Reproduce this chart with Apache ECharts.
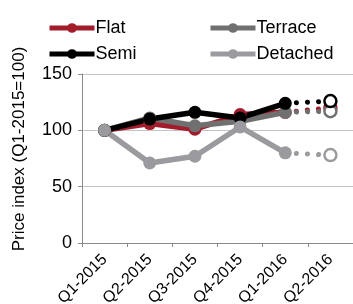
<!DOCTYPE html>
<html>
<head>
<meta charset="utf-8">
<script src="https://cdn.jsdelivr.net/npm/echarts@6/dist/echarts.min.js"></script>
<style>
  html, body { margin: 0; padding: 0; background: #fff; }
  #chart { width: 353px; height: 304px; }
</style>
</head>
<body>
<div id="chart"></div>
<script>
var quarters = ['Q1-2015', 'Q2-2015', 'Q3-2015', 'Q4-2015', 'Q1-2016', 'Q2-2016'];
var flat = [100, 106, 101, 114, 116, 120];
var terrace = [100, 111, 104, 108, 116, 117];
var semi = [100, 110, 116, 111, 124, 126];
var detached = [100, 71, 77, 103, 80, 78];
var yTicks = [0, 50, 100, 150];

var colours = {
    Flat: '#a21c2b',
    Terrace: '#707070',
    Semi: '#000000',
    Detached: '#9b9b9f'
};

// solid line up to the last actual quarter, dotted to the forecast
var makeSeries = function (name, values) {
    var c = colours[name];
    var last = values.length - 1;
    var solid = values.map(function (v, i) { return i < last ? v : null; });
    var dotted = values.map(function (v, i) {
        if (i === last - 1) return { value: v, symbol: 'none' };
        if (i === last) return {
            value: v, symbol: 'circle', symbolSize: 12,
            itemStyle: { color: '#fff', borderColor: c, borderWidth: 2.5 }
        };
        return null;
    });
    return [
        {
            name: name, type: 'line', data: solid,
            symbol: 'circle', symbolSize: 13,
            lineStyle: { color: c, width: 5.5 },
            itemStyle: { color: c },
            emphasis: { disabled: true },
            animation: false
        },
        {
            name: name + '-f', type: 'line', data: dotted,
            connectNulls: false,
            lineStyle: { color: c, width: 5, type: [0.1, 11], cap: 'round' },
            itemStyle: { color: c },
            emphasis: { disabled: true },
            animation: false
        }
    ];
};

var series = []
    .concat(makeSeries('Flat', flat))
    .concat(makeSeries('Terrace', terrace))
    .concat(makeSeries('Semi', semi))
    .concat(makeSeries('Detached', detached));

var legendBase = {
    orient: 'vertical',
    top: 14,
    itemWidth: 45,
    itemHeight: 12,
    itemGap: 8,
    lineStyle: { width: 5 },
    textStyle: {
        fontFamily: 'Liberation Sans', fontSize: 18, color: '#000',
        padding: [0, 0, 0, -4]
    }
};

var chart = echarts.init(document.getElementById('chart'));
chart.setOption({
    animation: false,
    legend: [
        Object.assign({ left: 42, data: ['Flat', 'Semi'] }, legendBase),
        Object.assign({ left: 203, data: ['Terrace', 'Detached'] }, legendBase)
    ],
    grid: { left: 82, right: 0, top: 74, bottom: 61, outerBoundsMode: 'none' },
    xAxis: {
        type: 'category',
        data: quarters,
        boundaryGap: true,
        axisLine: { lineStyle: { color: '#8a8a8a', width: 1 } },
        axisTick: { show: true, length: 4, lineStyle: { color: '#8a8a8a' } },
        axisLabel: {
            rotate: 45, interval: 0, margin: 14,
            fontFamily: 'Liberation Sans', fontSize: 16, color: '#000'
        }
    },
    yAxis: {
        type: 'value',
        min: yTicks[0],
        max: yTicks[yTicks.length - 1],
        interval: 50,
        name: 'Price index (Q1-2015=100)',
        nameLocation: 'middle',
        nameGap: 54,
        nameTextStyle: {
            fontFamily: 'Liberation Sans', fontSize: 17, color: '#000',
            padding: [0, 0, 0, 19]
        },
        axisLine: { show: true, lineStyle: { color: '#8a8a8a', width: 1 } },
        axisTick: { show: true, length: 4, lineStyle: { color: '#8a8a8a' } },
        splitLine: { lineStyle: { color: '#c4c4c4', width: 1 } },
        axisLabel: {
            margin: 10,
            fontFamily: 'Liberation Sans', fontSize: 18, color: '#000'
        }
    },
    series: series
});
</script>
</body>
</html>
